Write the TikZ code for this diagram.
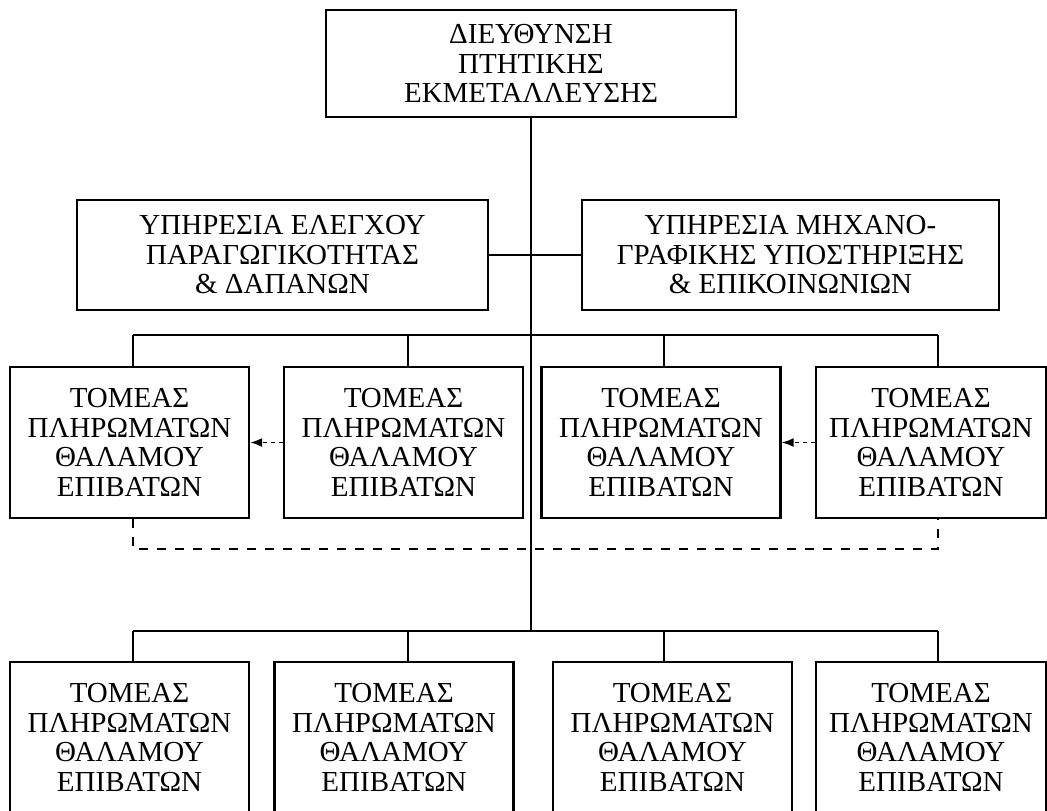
\documentclass[tikz,border=0pt]{standalone}
\usepackage{fontspec}
\setmainfont{Liberation Serif}
\usetikzlibrary{arrows.meta}
\begin{document}
\begin{tikzpicture}[x=1pt,y=-1pt]
  \tikzset{ u/.style={draw,line width=2.3pt,align=center,inner sep=0pt,font=\fontsize{29}{29.5}\selectfont},
    t/.style={u,minimum width=239pt,minimum height=151pt},
    c/.style={line width=2pt},
    r/.style={-{Latex[length=12pt,width=9pt]},line width=1.8pt,dash pattern=on 4pt off 4pt},
  }
  \useasboundingbox (0,0) rectangle (1047,811);

  \node[u,minimum width=410pt,minimum height=107pt] (D) at (531,63.5) {ΔΙΕΥΘΥΝΣΗ\\ΠΤΗΤΙΚΗΣ\\ΕΚΜΕΤΑΛΛΕΥΣΗΣ};
  \node[u,minimum width=411pt,minimum height=110pt] (Y1) at (282.5,255) {ΥΠΗΡΕΣΙΑ ΕΛΕΓΧΟΥ\\ΠΑΡΑΓΩΓΙΚΟΤΗΤΑΣ\\\& ΔΑΠΑΝΩΝ};
  \node[u,minimum width=417pt,minimum height=110pt] (Y2) at (790.5,255) {ΥΠΗΡΕΣΙΑ ΜΗΧΑΝΟ-\\ΓΡΑΦΙΚΗΣ ΥΠΟΣΤΗΡΙΞΗΣ\\\& ΕΠΙΚΟΙΝΩΝΙΩΝ};

  \node[t] (T1) at (129.5,442.5) {ΤΟΜΕΑΣ\\ΠΛΗΡΩΜΑΤΩΝ\\ΘΑΛΑΜΟΥ\\ΕΠΙΒΑΤΩΝ};
  \node[t] (T2) at (403.5,442.5) {ΤΟΜΕΑΣ\\ΠΛΗΡΩΜΑΤΩΝ\\ΘΑΛΑΜΟΥ\\ΕΠΙΒΑΤΩΝ};
  \node[t] (T3) at (661,442.5)   {ΤΟΜΕΑΣ\\ΠΛΗΡΩΜΑΤΩΝ\\ΘΑΛΑΜΟΥ\\ΕΠΙΒΑΤΩΝ};
  \node[t,minimum width=230pt] (T4) at (931,442.5) {ΤΟΜΕΑΣ\\ΠΛΗΡΩΜΑΤΩΝ\\ΘΑΛΑΜΟΥ\\ΕΠΙΒΑΤΩΝ};

  \node[t] (K1) at (129.5,737.5) {ΤΟΜΕΑΣ\\ΠΛΗΡΩΜΑΤΩΝ\\ΘΑΛΑΜΟΥ\\ΕΠΙΒΑΤΩΝ};
  \node[t] (K2) at (394,737.5)   {ΤΟΜΕΑΣ\\ΠΛΗΡΩΜΑΤΩΝ\\ΘΑΛΑΜΟΥ\\ΕΠΙΒΑΤΩΝ};
  \node[t] (K3) at (672.5,737.5) {ΤΟΜΕΑΣ\\ΠΛΗΡΩΜΑΤΩΝ\\ΘΑΛΑΜΟΥ\\ΕΠΙΒΑΤΩΝ};
  \node[t,minimum width=230pt] (K4) at (931,737.5) {ΤΟΜΕΑΣ\\ΠΛΗΡΩΜΑΤΩΝ\\ΘΑΛΑΜΟΥ\\ΕΠΙΒΑΤΩΝ};

  % bar joints
  \coordinate (a1) at (133,335);  \coordinate (b1) at (133,631);
  \coordinate (a2) at (408,335);  \coordinate (b2) at (408,631);
  \coordinate (a3) at (664,335);  \coordinate (b3) at (664,631);
  \coordinate (a4) at (938,335);  \coordinate (b4) at (938,631);
  \coordinate (d) at (133,549);

  \draw[c] (D) -- (D |- b1);
  \draw[c] (Y1) -- (Y2);
  \draw[c] (a1) -- (a4);
  \draw[c] (b1) -- (b4);
  \foreach \i in {1,...,4} {
    \draw[c] (a\i) -- (a\i |- T\i.north);
    \draw[c] (b\i) -- (b\i |- K\i.north);
  }

  \draw[r] (T2) -- (T1);
  \draw[r] (T4) -- (T3);
  \draw[c,dash pattern=on 9pt off 9pt] (a1 |- T1.south) -- (d) -| (a4 |- T4.south);

\end{tikzpicture}
\end{document}
